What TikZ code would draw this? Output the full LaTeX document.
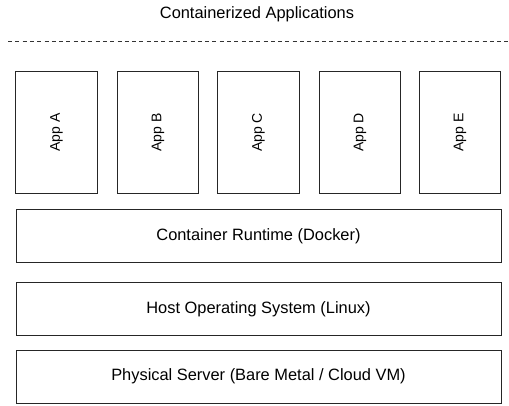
\documentclass[tikz,border=0pt]{standalone}
\usepackage{fontspec}
\setmainfont{Liberation Sans}
\begin{document}
\begin{tikzpicture}[x=1pt,y=-1pt,
  layer/.style={draw=black!85,line width=0.9pt,fill=white,minimum width=485pt,minimum height=53.5pt,inner sep=0pt,font=\fontsize{16.4}{19}\selectfont},
  appbox/.style={draw=black!85,line width=0.9pt,fill=white,minimum width=81.5pt,minimum height=121.5pt,inner sep=0pt},
  applabel/.style={rotate=90,font=\fontsize{14}{17}\selectfont,inner sep=0pt},
  sep/.style={draw=black!80,line width=0.9pt,dash pattern=on 4pt off 3.3pt}]
\useasboundingbox (0,0) rectangle (509,405);
\node[anchor=base,font=\fontsize{16.4}{19}\selectfont,inner sep=0pt] (title) at (257,18.5) {Containerized Applications};
\coordinate (sepL) at (8,41);
\coordinate (sepR) at (508,41);
\draw[sep] (sepL) -- (sepR);
\foreach \n/\x in {A/56.5,B/158,C/258.5,D/360,E/460}{
  \node[appbox] (app\n) at (\x,132.5) {};
  \node[applabel] (lab\n) at (app\n.center) {App \n};
}
\node[layer] (runtime) at (258.5,236) {Container Runtime (Docker)};
\node[layer] (host) at (258.5,309) {Host Operating System (Linux)};
\node[layer] (phys) at (258.5,376.7) {Physical Server (Bare Metal / Cloud VM)};
\end{tikzpicture}
\end{document}
